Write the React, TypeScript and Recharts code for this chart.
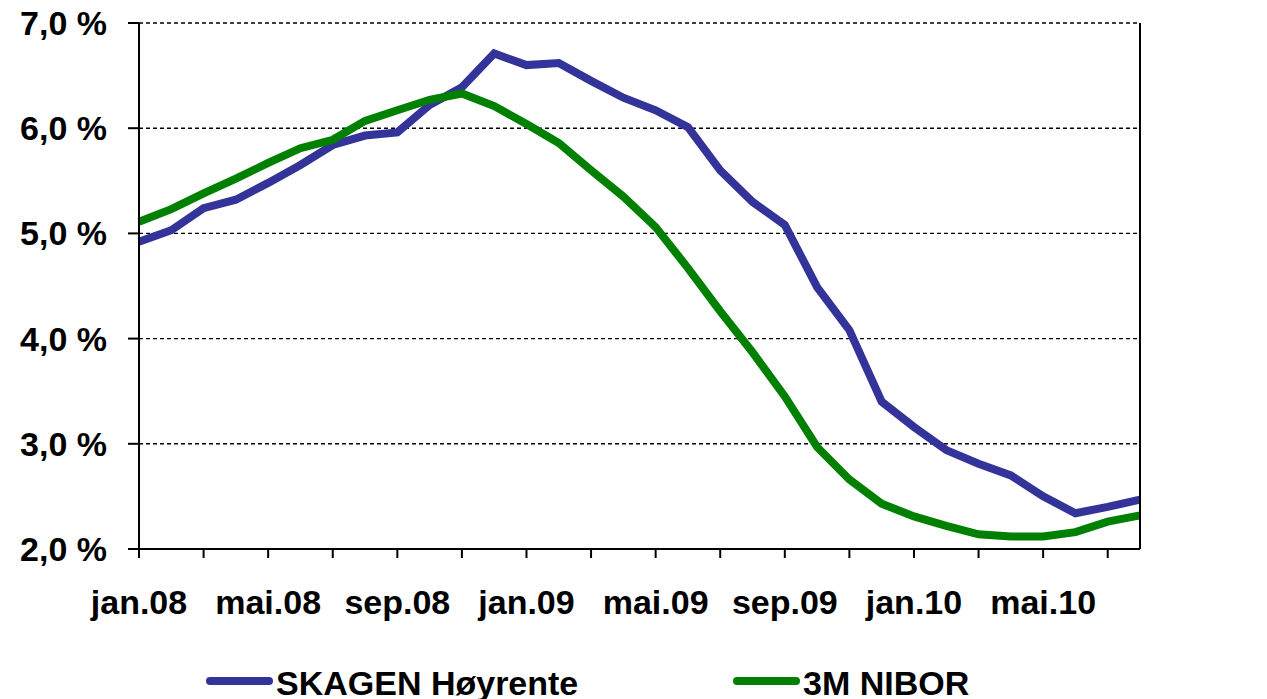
import { CartesianGrid, Legend, Line, LineChart, XAxis, YAxis } from 'recharts'

const months = [
  'jan.08', 'feb.08', 'mar.08', 'apr.08', 'mai.08', 'jun.08', 'jul.08', 'aug.08',
  'sep.08', 'okt.08', 'nov.08', 'des.08', 'jan.09', 'feb.09', 'mar.09', 'apr.09',
  'mai.09', 'jun.09', 'jul.09', 'aug.09', 'sep.09', 'okt.09', 'nov.09', 'des.09',
  'jan.10', 'feb.10', 'mar.10', 'apr.10', 'mai.10', 'jun.10', 'jul.10', 'aug.10',
]

const skagen = [
  4.92, 5.03, 5.24, 5.32, 5.48, 5.65, 5.84, 5.93, 5.96, 6.22, 6.39, 6.71, 6.6, 6.62, 6.45, 6.29,
  6.17, 6.01, 5.6, 5.3, 5.08, 4.49, 4.08, 3.4, 3.16, 2.94, 2.81, 2.7, 2.5, 2.34, 2.4, 2.47,
]

const nibor = [
  5.11, 5.23, 5.38, 5.52, 5.67, 5.81, 5.89, 6.07, 6.17, 6.27, 6.33, 6.21, 6.04, 5.86, 5.6, 5.35,
  5.06, 4.67, 4.26, 3.87, 3.45, 2.97, 2.66, 2.43, 2.31, 2.22, 2.14, 2.12, 2.12, 2.16, 2.26, 2.32,
]

const yTicks = [2, 3, 4, 5, 6, 7]
const labelledMonths = ['jan', 'mai', 'sep']

const series = [
  { key: 'skagen', name: 'SKAGEN Høyrente', color: '#333399' },
  { key: 'nibor', name: '3M NIBOR', color: '#008000' },
]

const data = months.map((m, i) => ({ month: m, skagen: skagen[i], nibor: nibor[i] }))

const font = "'Liberation Sans', Arial, sans-serif"
const tickStyle = { fontSize: 34, fontWeight: 'bold', fill: '#000', fontFamily: font }
const axisStroke = { stroke: '#000', strokeWidth: 2 }

const fmtPct = (v: number) => v.toFixed(1).replace('.', ',') + ' %'
const fmtMonth = (v: string) => (labelledMonths.includes(v.slice(0, 3)) ? v : '')

function ChartLegend() {
  const lefts = [206, 733]
  return (
    <div style={{ position: 'relative', width: 1267, height: 34 }}>
      {series.map((s, i) => (
        <div
          key={s.key}
          style={{
            position: 'absolute',
            left: lefts[i],
            top: 0,
            height: 34,
            lineHeight: '34px',
            whiteSpace: 'nowrap',
            fontFamily: font,
            fontWeight: 'bold',
            fontSize: 34,
            color: '#000',
          }}
        >
          <svg width={70} height={34} style={{ verticalAlign: 'top' }}>
            <line x1={4} y1={15} x2={63} y2={15} stroke={s.color} strokeWidth={8} strokeLinecap="round" />
          </svg>
          <span>{s.name}</span>
        </div>
      ))}
    </div>
  )
}

export default function App() {
  return (
    <div style={{ position: 'absolute', left: 0, top: 0, background: '#fff' }}>
      <LineChart width={1267} height={699} data={data} margin={{ top: 23, right: 0, bottom: 70, left: 0 }}>
        <CartesianGrid yAxisId="left" vertical={false} stroke="#000" strokeWidth={1.4} strokeDasharray="4 3" />
        <XAxis
          dataKey="month"
          interval={1}
          height={80}
          tick={tickStyle}
          tickFormatter={fmtMonth}
          tickSize={9}
          tickMargin={32}
          axisLine={axisStroke}
          tickLine={axisStroke}
        />
        <YAxis
          yAxisId="left"
          domain={[2, 7]}
          ticks={yTicks}
          width={139}
          tick={tickStyle}
          tickFormatter={fmtPct}
          tickSize={11}
          tickMargin={21}
          axisLine={axisStroke}
          tickLine={axisStroke}
        />
        <YAxis
          yAxisId="right"
          orientation="right"
          domain={[2, 7]}
          ticks={yTicks}
          width={127}
          tick={tickStyle}
          tickFormatter={fmtPct}
          tickSize={11}
          tickMargin={20}
          axisLine={axisStroke}
          tickLine={axisStroke}
        />
        <Legend
          layout="horizontal"
          verticalAlign="middle"
          align="center"
          content={<ChartLegend />}
          wrapperStyle={{ top: 666, left: 0, width: 1267, height: 34 }}
        />
        {series.map((s) => (
          <Line
            key={s.key}
            yAxisId="left"
            type="linear"
            dataKey={s.key}
            name={s.name}
            stroke={s.color}
            strokeWidth={8}
            dot={false}
            isAnimationActive={false}
          />
        ))}
      </LineChart>
    </div>
  )
}
